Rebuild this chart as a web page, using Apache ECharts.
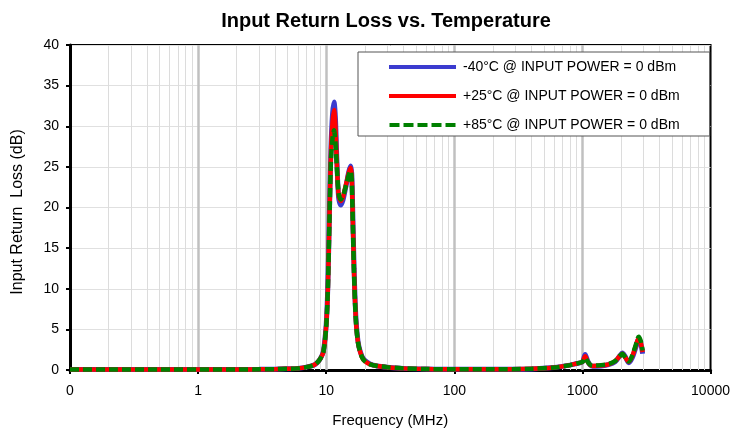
<!DOCTYPE html>
<html><head><meta charset="utf-8">
<script src="https://cdn.jsdelivr.net/npm/echarts@6/dist/echarts.min.js"></script>
<style>html,body{margin:0;padding:0;background:#fff}#c{width:733px;height:433px}</style>
</head><body><div id="c"></div>
<script>
// Frequency (MHz)
var freq = [0.1,0.2,0.5,1,2,3,4,5,6,7,8,8.5,9,9.5,10,10.3,10.6,10.9,11.2,11.5,11.8,12.1,12.5,13,13.5,14,14.5,15,15.5,15.8,16,16.5,17,17.5,18,19,20,22,25,30,40,60,100,200,400,600,800,900,1000,1050,1100,1150,1200,1400,1600,1800,1950,2050,2150,2300,2450,2600,2750,2850,2950];
// Input return loss (dB)
var lossM40 = [0.05,0.05,0.05,0.06,0.07,0.08,0.1,0.15,0.2,0.35,0.6,0.9,1.4,2.3,5.6,10.5,19.5,27.5,31.5,33,31,26,21.2,20.3,20.9,22,23.2,24.4,25.1,24.3,21.5,12.5,6.8,4.2,2.9,1.7,1.2,0.75,0.5,0.35,0.2,0.12,0.08,0.08,0.13,0.3,0.6,0.8,1.0,1.9,1.1,0.6,0.45,0.5,0.65,1.0,1.7,2.1,1.7,0.9,1.5,2.7,3.8,3.3,2.0];
var loss25 = [0.05,0.05,0.05,0.06,0.07,0.08,0.1,0.15,0.2,0.35,0.6,0.9,1.4,2.2,5.5,10,19,27,30.5,32,30,25.5,21.5,20.8,21.3,22.3,23.3,24.3,24.9,24,21,12,6.5,4,2.8,1.6,1.1,0.7,0.5,0.35,0.2,0.12,0.08,0.08,0.15,0.3,0.6,0.8,1.0,1.7,1.0,0.6,0.5,0.55,0.7,1.1,1.7,2.0,1.6,1.0,1.7,2.9,3.9,3.4,2.2];
var loss85 = [0.05,0.05,0.05,0.06,0.07,0.08,0.1,0.15,0.2,0.35,0.6,0.9,1.4,2.2,5.4,10,18.5,26,28.5,29.5,28,25,21.8,21,21.4,22.2,23.1,24,24.5,23.6,20.5,11.8,6.4,4,2.8,1.6,1.1,0.7,0.5,0.35,0.2,0.12,0.08,0.08,0.15,0.3,0.6,0.8,1.0,1.5,1.0,0.65,0.55,0.6,0.75,1.1,1.7,2.0,1.6,1.05,1.8,3.0,4.1,3.6,2.4];
var seriesNames = ['-40°C @ INPUT POWER = 0 dBm','+25°C @ INPUT POWER = 0 dBm','+85°C @ INPUT POWER = 0 dBm'];
var xTickLabels = {'-1':'0','0':'1','1':'10','2':'100','3':'1000','4':'10000'};

function pairs(v){ return freq.map(function(f,i){ return [f, v[i]]; }); }
var minorVals = [];
[0.1,1,10,100,1000].forEach(function(d){ for (var k=2;k<=9;k++) minorVals.push({xAxis: +(d*k).toPrecision(6)}); });
var majorVals = [1,10,100,1000].map(function(v){ return {xAxis: v}; });

var solidIcon = 'path://M0,0 L67,0 L67,4 L0,4 Z';
var dashIcon = 'path://M0,0 L10,0 L10,4 L0,4 Z M14,0 L24,0 L24,4 L14,4 Z M28,0 L38,0 L38,4 L28,4 Z M42,0 L52,0 L52,4 L42,4 Z M56,0 L66,0 L66,4 L56,4 Z';

var font = 'Liberation Sans, Arial, sans-serif';
var chart = echarts.init(document.getElementById('c'), null, {renderer:'canvas'});
chart.setOption({
  animation:false,
  backgroundColor:'#fff',
  title:{text:'Input Return Loss vs. Temperature', left:381, top:6, textAlign:'center',
    textStyle:{fontFamily:font, fontSize:20, fontWeight:'bold', color:'#000'}},
  grid:{left:70, right:19, top:45, bottom:63, show:true, borderColor:'#000', borderWidth:2, backgroundColor:'transparent'},
  legend:{data:[{name:seriesNames[0], icon:solidIcon},{name:seriesNames[1], icon:solidIcon},{name:seriesNames[2], icon:dashIcon}],
    orient:'vertical', left:358, top:52, itemWidth:67, itemHeight:4, itemGap:15, z:20,
    padding:[8,30,4,31], borderColor:'#555', borderWidth:1, backgroundColor:'#fff',
    textStyle:{fontFamily:font, fontSize:14, color:'#000', padding:[0,0,0,2]}},
  xAxis:{type:'log', logBase:10, min:0.1, max:10000,
    name:'Frequency (MHz)', nameLocation:'middle', nameGap:43,
    nameTextStyle:{fontFamily:font, fontSize:15, color:'#000'},
    axisLine:{show:true, onZero:false, lineStyle:{color:'#000', width:3}},
    axisTick:{show:true, length:4, lineStyle:{color:'#000', width:2}},
    axisLabel:{fontFamily:font, fontSize:14, color:'#000', margin:14,
      formatter:function(v){ return xTickLabels[String(Math.round(Math.log10(v)))]; }},
    splitLine:{show:false}},
  yAxis:{type:'value', min:0, max:40, interval:5,
    name:'Input Return  Loss (dB)', nameLocation:'middle', nameGap:44,
    nameTextStyle:{fontFamily:font, fontSize:16, color:'#000', padding:[0,9,0,0]},
    axisLine:{show:true, lineStyle:{color:'#000', width:3}},
    axisTick:{show:true, length:4, lineStyle:{color:'#000', width:2}},
    axisLabel:{fontFamily:font, fontSize:14, color:'#000', margin:11},
    splitLine:{show:true, lineStyle:{color:'#e0e0e0', width:1}}},
  series:[
    {name:'grid', type:'line', data:[], z:1, silent:true,
      markLine:{silent:true, symbol:'none', label:{show:false}, animation:false, z:1,
        data: minorVals.map(function(d){ return Object.assign({lineStyle:{color:'#dcdcdc', width:1, type:'solid'}}, d); })
          .concat(majorVals.map(function(d){ return Object.assign({lineStyle:{color:'#c0c0c0', width:2.5, type:'solid'}}, d); }))}},
    {name:seriesNames[0], type:'line', data:pairs(lossM40), smooth:0.3, showSymbol:false, symbol:'none', z:3,
      color:'#3b3bcf', lineStyle:{color:'#3b3bcf', width:5}},
    {name:seriesNames[1], type:'line', data:pairs(loss25), smooth:0.3, showSymbol:false, symbol:'none', z:4,
      color:'#ff0000', lineStyle:{color:'#ff0000', width:4.5}},
    {name:seriesNames[2], type:'line', data:pairs(loss85), smooth:0.3, showSymbol:false, symbol:'none', z:5,
      color:'#008000', lineStyle:{color:'#008000', width:4.5, type:[9,4]}}
  ]
});
</script></body></html>
